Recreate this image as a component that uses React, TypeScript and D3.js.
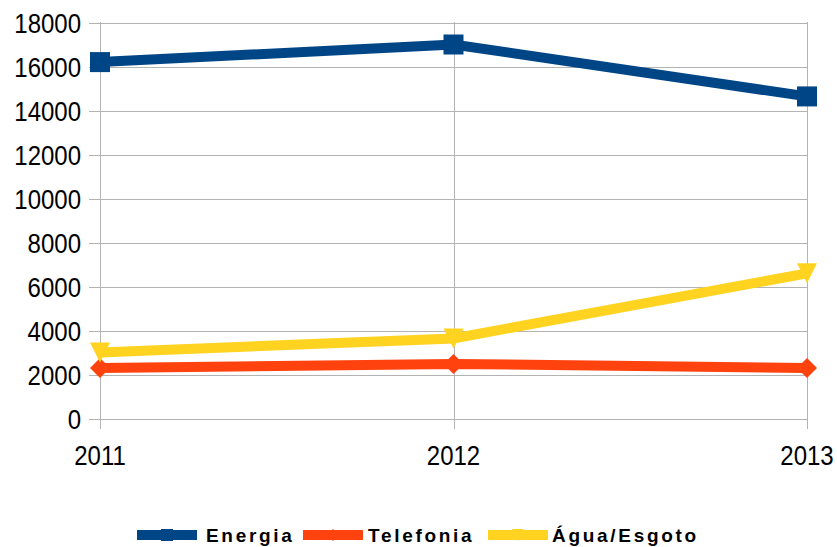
import React from "react";
import * as d3 from "d3";

const years = [2011, 2012, 2013];
const energia = [16200, 17000, 14640];
const telefonia = [2300, 2480, 2300];
const agua = [3000, 3640, 6600];
const yTicks = [0, 2000, 4000, 6000, 8000, 10000, 12000, 14000, 16000, 18000];

const W = 837;
const H = 547;
const BLUE = "#004586";
const RED = "#ff420e";
const YELLOW = "#ffd320";

export default function App() {
  const x = d3.scalePoint<number>().domain(years).range([100, 807]);
  const y = d3.scaleLinear().domain([0, 18000]).range([418.5, 22.5]);

  const lineGen = (vals: number[]) =>
    d3.line<number>().x((_, i) => x(years[i]) as number).y((v) => y(v))(vals) || "";

  const series = [
    { name: "Energia", vals: energia, color: BLUE, shape: "square" },
    { name: "Telefonia", vals: telefonia, color: RED, shape: "diamond" },
    { name: "Água/Esgoto", vals: agua, color: YELLOW, shape: "triangle" },
  ];

  const marker = (shape: string, cx: number, cy: number, color: string, s: number, key: string) => {
    const h = s / 2;
    if (shape === "square")
      return <rect key={key} x={cx - h} y={cy - h} width={s} height={s} fill={color} />;
    if (shape === "diamond")
      return (
        <path key={key} d={`M${cx},${cy - h}L${cx + h},${cy}L${cx},${cy + h}L${cx - h},${cy}Z`} fill={color} />
      );
    return <path key={key} d={`M${cx - h},${cy - h}L${cx + h},${cy - h}L${cx},${cy + h}Z`} fill={color} />;
  };

  const legendItems = [
    { lx: 137, tx: 206 },
    { lx: 303, tx: 368 },
    { lx: 488, tx: 552 },
  ];

  return (
    <svg
      width={W}
      height={H}
      style={{ position: "absolute", left: 0, top: 0 }}
      fontFamily="'Liberation Sans', Arial, sans-serif"
    >
      <rect width={W} height={H} fill="#fff" />
      {yTicks.map((t) => (
        <g key={t}>
          <line x1={89} x2={807} y1={Math.round(y(t)) + 0.5} y2={Math.round(y(t)) + 0.5} stroke="#b3b3b3" strokeWidth={1} />
          <text
            transform={`translate(81,${y(t) + 10}) scale(1,1.17)`}
            textAnchor="end"
            fontSize={24}
            fill="#000"
          >
            {t}
          </text>
        </g>
      ))}
      {years.map((yr) => (
        <g key={yr}>
          <line
            x1={Math.round(x(yr) as number) + 0.5}
            x2={Math.round(x(yr) as number) + 0.5}
            y1={22}
            y2={429}
            stroke="#b3b3b3"
            strokeWidth={1}
          />
          <text
            transform={`translate(${x(yr) as number},465) scale(1,1.17)`}
            textAnchor="middle"
            fontSize={24}
            fill="#000"
          >
            {yr}
          </text>
        </g>
      ))}
      {series.map((s) => (
        <g key={s.name}>
          <path d={lineGen(s.vals)} fill="none" stroke={s.color} strokeWidth={10} strokeLinejoin="miter" />
          {s.vals.map((v, i) => marker(s.shape, x(years[i]) as number, y(v), s.color, 20, s.name + i))}
        </g>
      ))}
      {series.map((s, i) => {
        const it = legendItems[i];
        return (
          <g key={"lg" + s.name}>
            <line x1={it.lx} x2={it.lx + 60} y1={535} y2={535} stroke={s.color} strokeWidth={10} />
            {marker(s.shape, it.lx + 30, 535, s.color, 12, "lm" + i)}
            <text x={it.tx} y={542} fontSize={19} fontWeight="bold" letterSpacing={2.7} fill="#000">
              {s.name}
            </text>
          </g>
        );
      })}
    </svg>
  );
}
